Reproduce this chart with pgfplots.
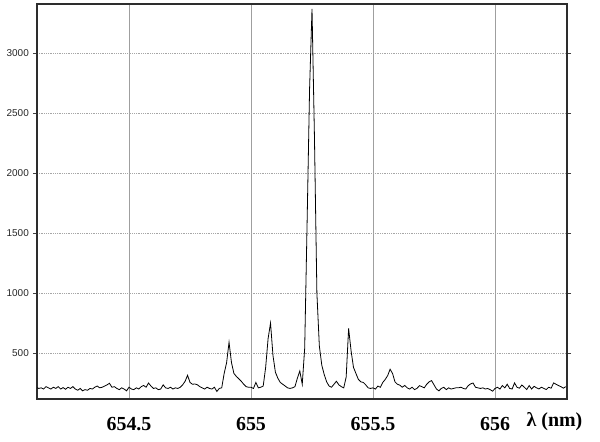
\documentclass[border=0pt]{standalone}
\usepackage{pgfplots}
\pgfplotsset{compat=1.18}
\usepackage{fontspec}
\setmainfont{Liberation Serif}
\newfontfamily\arialfont{Liberation Sans}
\pgfplotstableread{
x y
654.12 215
654.13 205
654.14 210
654.15 200
654.16 220
654.17 210
654.18 200
654.19 215
654.20 205
654.21 220
654.22 200
654.23 212
654.24 198
654.25 215
654.26 205
654.27 220
654.28 200
654.29 190
654.30 205
654.31 185
654.32 195
654.33 190
654.34 205
654.35 200
654.36 215
654.37 225
654.38 210
654.39 215
654.40 225
654.41 235
654.42 248
654.43 215
654.44 220
654.45 205
654.46 195
654.47 210
654.48 200
654.49 185
654.50 215
654.51 200
654.52 195
654.53 210
654.54 200
654.55 220
654.56 230
654.57 215
654.58 250
654.59 225
654.60 205
654.61 210
654.62 195
654.63 200
654.64 235
654.65 210
654.66 205
654.67 215
654.68 200
654.69 210
654.70 205
654.71 215
654.72 235
654.73 265
654.74 315
654.75 255
654.76 240
654.77 242
654.78 236
654.79 220
654.80 210
654.81 200
654.82 215
654.83 205
654.84 200
654.85 215
654.86 180
654.87 205
654.88 210
654.89 330
654.90 420
654.91 590
654.92 420
654.93 330
654.94 305
654.95 285
654.96 265
654.97 240
654.98 220
654.99 215
655.00 215
655.01 205
655.02 255
655.03 210
655.04 215
655.05 225
655.06 380
655.07 620
655.08 750
655.09 480
655.10 340
655.11 290
655.12 255
655.13 240
655.14 225
655.15 210
655.16 205
655.17 210
655.18 220
655.19 290
655.20 350
655.21 240
655.22 540
655.23 1600
655.24 2700
655.25 3370
655.26 2300
655.27 1000
655.28 560
655.29 400
655.30 320
655.31 260
655.32 225
655.33 215
655.34 240
655.35 265
655.36 235
655.37 220
655.38 210
655.39 300
655.40 705
655.41 520
655.42 380
655.43 330
655.44 280
655.45 260
655.46 255
655.47 235
655.48 210
655.49 205
655.50 210
655.51 200
655.52 225
655.53 215
655.54 255
655.55 280
655.56 312
655.57 365
655.58 330
655.59 260
655.60 240
655.61 232
655.62 215
655.63 230
655.64 210
655.65 200
655.66 215
655.67 195
655.68 205
655.69 228
655.70 220
655.71 210
655.72 240
655.73 260
655.74 270
655.75 235
655.76 200
655.77 185
655.78 205
655.79 215
655.80 195
655.81 210
655.82 200
655.83 205
655.84 210
655.85 210
655.86 215
655.87 205
655.88 200
655.89 228
655.90 243
655.91 250
655.92 215
655.93 210
655.94 205
655.95 210
655.96 200
655.97 205
655.98 195
655.99 182
656.00 205
656.01 215
656.02 200
656.03 229
656.04 210
656.05 240
656.06 205
656.07 200
656.08 251
656.09 215
656.10 207
656.11 234
656.12 215
656.13 196
656.14 229
656.15 200
656.16 223
656.17 210
656.18 201
656.19 215
656.20 205
656.21 196
656.22 215
656.23 207
656.24 251
656.25 240
656.26 229
656.27 220
656.28 207
656.29 220
}\spectrum
\begin{document}
\begin{tikzpicture}[x=1bp,y=1bp]
\useasboundingbox (0,0) rectangle (600,442);
\begin{axis}[
  at={(37bp,43bp)}, anchor=south west,
  scale only axis, width=530bp, height=395bp,
  xmin=654.123, xmax=656.295,
  ymin=117, ymax=3410,
  xtick={654.5,655,655.5,656},
  xticklabels={654.5,655,655.5,656},
  ytick={500,1000,1500,2000,2500,3000},
  /pgf/number format/1000 sep={},
  /pgf/number format/assume math mode=true,
  xticklabel style={font=\bfseries\fontsize{20}{22}\selectfont, anchor=base, yshift=-28bp, inner sep=0pt},
  yticklabel style={font=\arialfont\fontsize{10}{12}\selectfont, anchor=east, xshift=-4bp, inner sep=0pt, text=black!85},
  tick align=outside,
  major tick length=4bp,
  xtick style={draw=none},
  ytick style={gray!50!black},
  grid=major,
  major x grid style={gray!75, line width=0.8bp},
  major y grid style={gray!70, line width=0.8bp, densely dotted},
  axis line style={gray!35!black, line width=1.2bp},
]
\addplot[black, line width=0.8bp] table[x=x,y=y] {\spectrum};
\end{axis}
\node[anchor=base, font=\bfseries\fontsize{20}{22}\selectfont, inner sep=0pt] at (554.5,15) {λ (nm)};
\end{tikzpicture}
\end{document}
